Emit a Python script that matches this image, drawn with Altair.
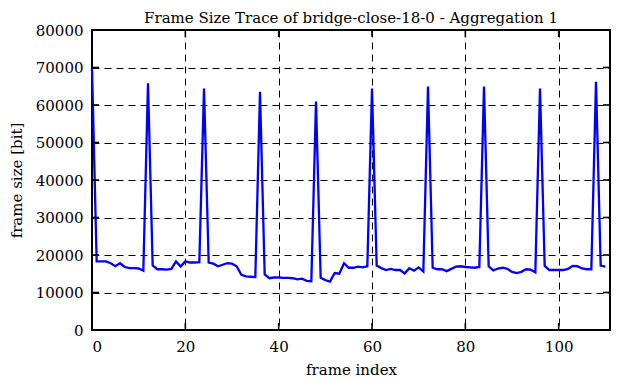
import altair as alt
import pandas as pd

frame_index = list(range(111))
frame_size = [
    69800, 18300, 18300, 18300, 17800, 17000, 17800, 16800, 16500, 16500,
    16400, 15800, 65800, 17200, 16200, 16200, 16100, 16300, 18300, 16900,
    18300, 18000, 18000, 18100, 64400, 18000, 17700, 17000, 17400, 17800,
    17700, 17000, 14700, 14300, 14200, 14100, 63500, 14800, 13800, 14000,
    14000, 13900, 13900, 13800, 13500, 13700, 13100, 13000, 60900, 13900,
    13300, 12900, 15200, 15000, 17800, 16600, 16600, 16900, 16700, 17000,
    64400, 17200, 16500, 16000, 16300, 16000, 16000, 15100, 16500, 15800,
    16700, 15600, 64900, 16600, 16200, 16200, 15700, 16300, 16900, 17000,
    16800, 16700, 16600, 16800, 64900, 17000, 15900, 16400, 16600, 16300,
    15500, 15200, 15500, 16200, 16100, 15400, 64400, 17100, 16000, 16000,
    16000, 16000, 16300, 17100, 17000, 16400, 16200, 16200, 66200, 17200,
    16900,
]
x_ticks = [0, 20, 40, 60, 80, 100]
y_ticks = [0, 10000, 20000, 30000, 40000, 50000, 60000, 70000, 80000]

title_text = "Frame Size Trace of bridge-close-18-0 - Aggregation 1"
x_title = "frame index"
y_title = "frame size [bit]"

W, H = 518, 300
FONT = "DejaVu Serif"

df = pd.DataFrame({"frame": frame_index, "size": frame_size})
xt = pd.DataFrame({"frame": x_ticks})
yt = pd.DataFrame({"size": y_ticks})

xs = alt.Scale(domain=[0, 111], nice=False, zero=False)
ys = alt.Scale(domain=[0, 80000], nice=False)

common = dict(grid=True, gridDash=[7, 5], gridColor="black", gridWidth=1,
              gridOpacity=1, format="d", ticks=False, domain=False,
              labelFont=FONT, labelFontSize=15, labelColor="black",
              titleFont=FONT, titleFontSize=15, titleFontWeight="normal",
              titleColor="black")
x_axis = alt.Axis(values=x_ticks, title=x_title, labelPadding=9,
                  titlePadding=8, **common)
y_axis = alt.Axis(values=y_ticks, title=y_title, labelPadding=9,
                  titlePadding=11, **common)

X = alt.X("frame:Q", scale=xs, axis=x_axis)
Y = alt.Y("size:Q", scale=ys, axis=y_axis)

line = alt.Chart(df).mark_line(color="#0000ff", strokeWidth=2.3).encode(x=X, y=Y)

tick_style = dict(color="black", strokeWidth=1.6)
left_t = alt.Chart(yt).mark_rule(**tick_style).encode(y=Y, x=alt.value(0), x2=alt.value(7))
right_t = alt.Chart(yt).mark_rule(**tick_style).encode(y=Y, x=alt.value(W - 7), x2=alt.value(W))
bot_t = alt.Chart(xt).mark_rule(**tick_style).encode(x=X, y=alt.value(H), y2=alt.value(H - 7))
top_t = alt.Chart(xt).mark_rule(**tick_style).encode(x=X, y=alt.value(0), y2=alt.value(7))

chart = alt.layer(line, left_t, right_t, bot_t, top_t).properties(
    width=W, height=H,
    title=alt.TitleParams(title_text, font=FONT, fontSize=15, fontWeight="normal",
                          color="black", anchor="middle", offset=-3),
    autosize=alt.AutoSizeParams(type="none"),
    padding={"left": 84, "top": 22, "right": 4, "bottom": 52},
    background="white",
).configure_view(
    stroke="black", strokeWidth=2
)

chart.save("out.html", embed_options={"renderer": "svg", "actions": False})
